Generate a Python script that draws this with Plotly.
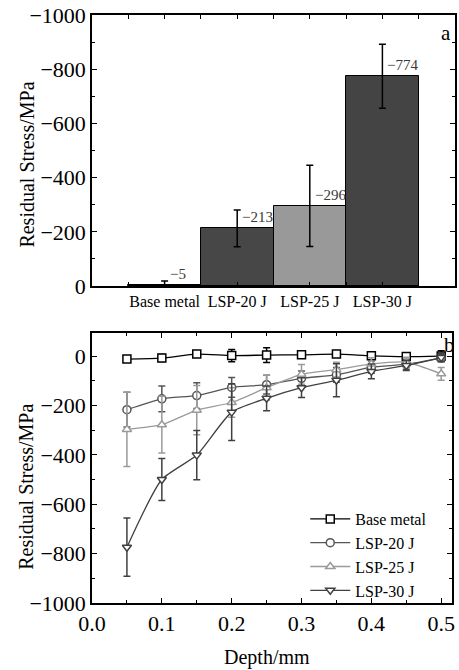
import plotly.graph_objects as go

# ---- Data: panel a (surface residual stress) ----
categories = ["Base metal", "LSP-20 J", "LSP-25 J", "LSP-30 J"]
surface_values = [-5, -213, -296, -774]
surface_err = [14, 68, 150, 118]
bar_colors = ["#444444", "#474747", "#999999", "#444444"]

# ---- Data: panel b (depth profiles) ----
depth = [0.05, 0.10, 0.15, 0.20, 0.25, 0.30, 0.35, 0.40, 0.45, 0.50]
base_metal = [-12, -8, 8, 2, 4, 5, 8, 1, -2, 0]
base_metal_err = [10, 14, 8, 25, 30, 8, 8, 8, 8, 22]
lsp20 = [-217, -173, -160, -127, -116, -90, -76, -45, -33, -8]
lsp20_err = [70, 52, 52, 40, 38, 30, 30, 25, 20, 15]
lsp25 = [-297, -278, -219, -188, -128, -74, -55, -32, -25, -72]
lsp25_err = [150, 115, 100, 60, 50, 40, 30, 25, 20, 26]
lsp30 = [-774, -500, -401, -227, -171, -128, -98, -62, -38, -6]
lsp30_err = [118, 85, 100, 115, 50, 40, 67, 30, 20, 15]

series_names = ["Base metal", "LSP-20 J", "LSP-25 J", "LSP-30 J"]
series_colors = ["#000000", "#555555", "#9a9a9a", "#404040"]
series_symbols = ["square", "circle", "triangle-up", "triangle-down"]

FONT = "Liberation Serif"

fig = go.Figure()

positions = [i + 1 for i in range(len(categories))]
fig.add_trace(go.Bar(
    x=positions, y=surface_values, width=1,
    marker=dict(color=bar_colors, line=dict(color="black", width=1)),
    error_y=dict(type="data", array=surface_err, color="black", thickness=1.5, width=3.5),
    showlegend=False, xaxis="x", yaxis="y",
))

series = [
    (base_metal, base_metal_err),
    (lsp20, lsp20_err),
    (lsp25, lsp25_err),
    (lsp30, lsp30_err),
]
for (vals, errs), name, col, sym in zip(series, series_names, series_colors, series_symbols):
    fig.add_trace(go.Scatter(
        x=depth, y=vals, name=name, mode="lines+markers",
        line=dict(color=col, width=1.3, shape="spline", smoothing=0.6),
        marker=dict(symbol=sym, size=8, color="white", line=dict(color=col, width=1.5)),
        error_y=dict(type="data", array=errs, color=col, thickness=1.5, width=3.5),
        xaxis="x2", yaxis="y2",
    ))

annotations = []
for p, v in zip(positions, surface_values):
    annotations.append(dict(
        x=p + 0.04, y=v, xref="x", yref="y", text="\u2212" + str(abs(v)),
        showarrow=False, xanchor="left", yanchor="bottom", yshift=1,
        font=dict(family=FONT, size=15, color="#3a3a3a"),
    ))

annotations += [
    dict(text="a", x=0.975, y=0.969, xref="paper", yref="paper", showarrow=False,
         xanchor="center", yanchor="middle",
         font=dict(family=FONT, size=21, color="black")),
    dict(text="b", x=0.986, y=0.439, xref="paper", yref="paper", showarrow=False,
         xanchor="center", yanchor="middle",
         font=dict(family=FONT, size=21, color="black")),
    dict(text="Residual Stress/MPa", x=-0.180, y=0.745, xref="paper", yref="paper",
         xanchor="center", yanchor="middle",
         textangle=-90, showarrow=False, font=dict(family=FONT, size=20, color="black")),
    dict(text="Residual Stress/MPa", x=-0.180, y=0.197, xref="paper", yref="paper",
         xanchor="center", yanchor="middle",
         textangle=-90, showarrow=False, font=dict(family=FONT, size=20, color="black")),
    dict(text="Depth/mm", x=0.481, y=-0.0935, xref="paper", yref="paper",
         xanchor="center", yanchor="middle",
         showarrow=False, font=dict(family=FONT, size=20, color="black")),
]

axis_common = dict(showline=True, linecolor="black", linewidth=1.5, mirror="ticks",
                   ticks="inside", tickcolor="black", tickwidth=1.2, showgrid=False,
                   zeroline=False)

fig.update_layout(
    width=459, height=670,
    margin=dict(l=92, r=1, t=15, b=67),
    paper_bgcolor="white", plot_bgcolor="white",
    font=dict(family=FONT, color="black"),
    bargap=0,
    xaxis=dict(domain=[0, 1], range=[0, 5], tickmode="array", tickvals=positions,
               ticktext=categories, ticklen=4, tickfont=dict(size=16), anchor="y",
               minor=dict(tickmode="linear", tick0=0.5, dtick=1, ticks="inside", ticklen=4,
                          tickcolor="black"),
               **axis_common),
    yaxis=dict(domain=[0.539, 1], range=[0, -1000], tick0=0, dtick=200, ticklen=5,
               tickfont=dict(size=22), anchor="x",
               minor=dict(dtick=100, ticks="inside", ticklen=3, tickcolor="black"),
               **axis_common),
    xaxis2=dict(domain=[0, 0.992], range=[0, 0.5156], tick0=0, dtick=0.1, tickformat=".1f",
                ticklen=5, tickfont=dict(size=22), anchor="y2",
                minor=dict(dtick=0.05, ticks="inside", ticklen=3, tickcolor="black"),
                **axis_common),
    yaxis2=dict(domain=[0, 0.459], range=[-1000, 93], tick0=0, dtick=200, ticklen=5,
                tickfont=dict(size=22), anchor="x2",
                minor=dict(dtick=100, ticks="inside", ticklen=3, tickcolor="black"),
                **axis_common),
    legend=dict(x=0.5875, xanchor="left", y=0.1718, yanchor="top",
                bgcolor="rgba(0,0,0,0)", font=dict(family=FONT, size=16),
                itemwidth=40, tracegroupgap=0),
    annotations=annotations,
)

fig.write_html("out.html", config={"displayModeBar": False},
               post_script="document.body.style.margin='0';document.body.style.padding='0';")
